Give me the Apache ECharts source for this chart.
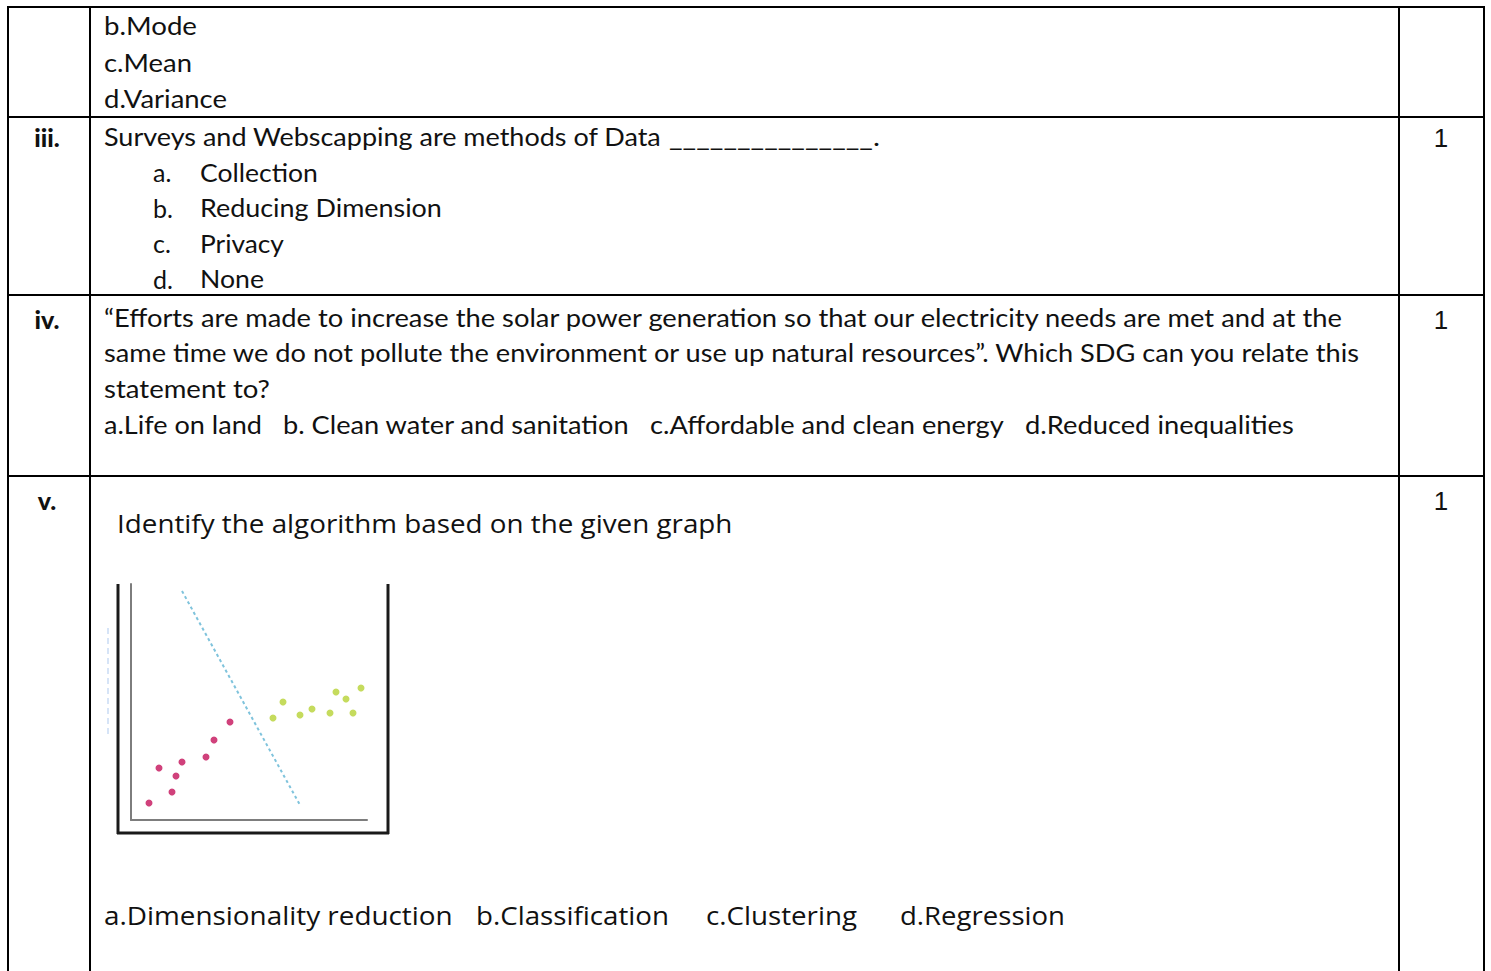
<!DOCTYPE html>
<html>
<head>
<meta charset="utf-8">
<title>Question sheet</title>
<script src="https://cdn.jsdelivr.net/npm/echarts@6/dist/echarts.min.js"></script>
<style>
  html, body { margin: 0; padding: 0; background: #fff; }
  #page { width: 1491px; height: 971px; }
</style>
</head>
<body>
<div id="page"></div>
<script>
// scatter data (units: plot px from the axis corner)
const classA = [[18, 17], [41, 28], [28, 52], [45, 44], [51, 58], [75, 63], [83, 80], [99, 98]]
const classB = [[142, 102], [152, 118], [169, 105], [181, 111], [199, 107], [205, 128], [215, 121], [222, 107], [230, 132]]
const boundary = [[51, 229], [169, 15]]

// question text
const row2Options = ['b.Mode', 'c.Mean', 'd.Variance']
const q3Text = 'Surveys and Webscapping are methods of Data'
const q3Letters = ['a.', 'b.', 'c.', 'd.']
const q3Options = ['Collection', 'Reducing Dimension', 'Privacy', 'None']
const q4Lines = [
  '\u201cEfforts are made to increase the solar power generation so that our electricity needs are met and at the',
  'same time we do not pollute the environment or use up natural resources\u201d. Which SDG can you relate this',
  'statement to?'
]
const q4Options = ['a.Life on land', 'b. Clean water and sanitation', 'c.Affordable and clean energy', 'd.Reduced inequalities']
const q5Text = 'Identify the algorithm based on the given graph'
const q5Options = ['a.Dimensionality reduction', 'b.Classification', 'c.Clustering', 'd.Regression']
const rowLabels = ['iii.', 'iv.', 'v.']
const marks = ['1', '1', '1']

const BODY = '25px Lato'
const BODY2 = '26px "Open Sans"'

// measure text to squeeze it to the width seen in the picture
const ctx = document.createElement('canvas').getContext('2d')
const fit = (text, font, width) => {
  ctx.font = font
  const w = ctx.measureText(text).width
  return Math.max(0.8, Math.min(1.2, width / w))
}

const txt = (text, x, y, font, width, extra) => ({
  type: 'text',
  x: x,
  y: y,
  scaleX: width ? fit(text, font, width) : 1,
  silent: true,
  style: Object.assign({ text: text, font: font, fill: '#111', verticalAlign: 'middle', align: 'left' }, extra || {})
})

const line = (x1, y1, x2, y2, w, color, dash) => ({
  type: 'line',
  silent: true,
  shape: { x1: x1, y1: y1, x2: x2, y2: y2 },
  style: { stroke: color || '#000', lineWidth: w || 2, lineDash: dash || null }
})

const graphics = []

// table grid
graphics.push(line(7, 7, 1485, 7))
graphics.push(line(8, 7, 8, 971))
graphics.push(line(90, 7, 90, 971))
graphics.push(line(1399, 7, 1399, 971))
graphics.push(line(1484, 7, 1484, 971))
;[117, 295, 476].forEach(y => graphics.push(line(7, y, 1485, y)))

// row: remaining options of previous question
const row2W = [93, 88, 123]
row2Options.forEach((t, i) => graphics.push(txt(t, 104, 26 + i * 36, BODY, row2W[i])))

// question iii
graphics.push(txt(q3Text, 104, 136, BODY, 558))
graphics.push(txt('_______________.', 669, 136, BODY, 211))
const q3W = [118, 242, 84, 64]
q3Letters.forEach((t, i) => {
  graphics.push(txt(t, 153, 172 + i * 35.7, BODY, 0))
  graphics.push(txt(q3Options[i], 200, 172 + i * 35.7, BODY, q3W[i]))
})

// question iv
const q4W = [1241, 1258, 166]
q4Lines.forEach((t, i) => graphics.push(txt(t, 104, 317 + i * 35.7, BODY, q4W[i])))
const q4X = [104, 283, 650, 1025]
const q4OW = [158, 347, 354, 269]
q4Options.forEach((t, i) => graphics.push(txt(t, q4X[i], 424, BODY, q4OW[i])))

// question v
graphics.push(txt(q5Text, 117, 523, BODY2, 616))
const q5X = [104, 476, 706, 900]
const q5W = [349, 193, 151, 165]
q5Options.forEach((t, i) => graphics.push(txt(t, q5X[i], 915, BODY2, q5W[i])))

// row labels and marks
const rowY = [137, 319, 500]
rowLabels.forEach((t, i) => {
  graphics.push(txt(t, 47, rowY[i], '900 25px Lato', 0, { align: 'center' }))
  graphics.push(txt(marks[i], 1441, rowY[i] + 1, '26px "Liberation Sans"', 0, { align: 'center' }))
})

// picture frame around the graph
graphics.push(line(118, 584, 118, 834, 3, '#1a1a1a'))
graphics.push(line(117, 833, 389, 833, 3, '#1a1a1a'))
graphics.push(line(388, 584, 388, 834, 3, '#1a1a1a'))
graphics.push(line(108, 628, 108, 735, 1.5, '#c9dcf5', [6, 4]))

const chart = echarts.init(document.getElementById('page'), null, { renderer: 'svg' })

const option = {
  backgroundColor: '#fff',
  animation: false,
  grid: { left: 131, top: 584, width: 236, height: 236 },
  xAxis: {
    type: 'value',
    min: 0,
    max: 236,
    axisLine: { show: true, lineStyle: { color: '#7d7d7d', width: 2 } },
    axisTick: { show: false },
    axisLabel: { show: false },
    splitLine: { show: false }
  },
  yAxis: {
    type: 'value',
    min: 0,
    max: 236,
    axisLine: { show: true, lineStyle: { color: '#7d7d7d', width: 2 } },
    axisTick: { show: false },
    axisLabel: { show: false },
    splitLine: { show: false }
  },
  series: [
    {
      type: 'line',
      data: boundary,
      symbol: 'none',
      lineStyle: { color: '#7fc3dc', width: 2, type: [3, 3] }
    },
    {
      type: 'scatter',
      data: classA,
      symbolSize: 7,
      itemStyle: { color: '#c4115a' }
    },
    {
      type: 'scatter',
      data: classB,
      symbolSize: 7,
      itemStyle: { color: '#b7d234' }
    }
  ],
  graphic: graphics
}

chart.setOption(option)
</script>
</body>
</html>
